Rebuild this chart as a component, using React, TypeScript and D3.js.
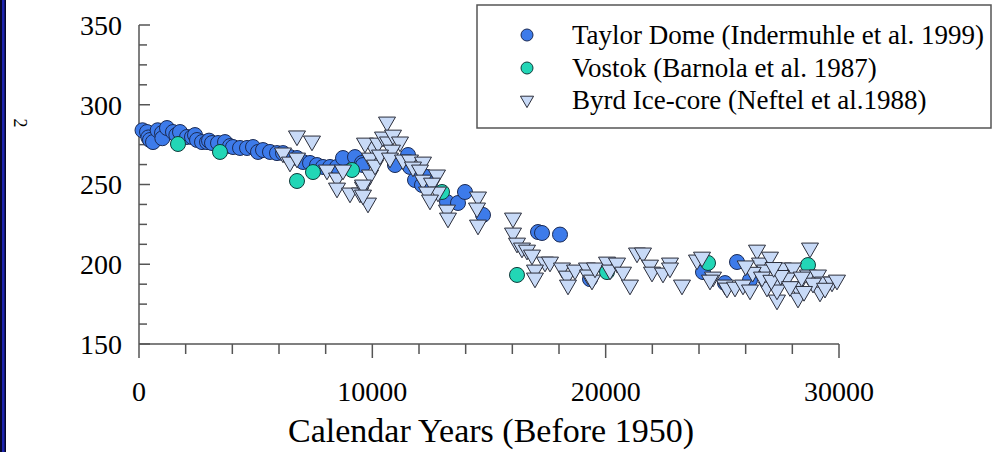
import React, { useEffect, useRef } from "react";
import * as d3 from "d3";

// [calendar years before 1950, CO2 ppmv]
const taylorDome: [number, number][] = [
  [150, 284], [343, 282.9], [400, 279.5], [471, 277.9], [600, 276.6], [800, 284], [986, 282.3],
  [1000, 279], [1200, 285.4], [1457, 282.9], [1600, 281], [1757, 282.9], [2057, 279.8],
  [2271, 279.8], [2400, 281], [2486, 277.9], [2700, 276.6], [2914, 276.6], [3000, 277.5],
  [3129, 276.0], [3386, 276.0], [3686, 276.6], [3900, 274.1], [4029, 273.5], [4329, 272.9],
  [4629, 272.9], [4886, 273.5], [5100, 270.4], [5314, 271.6], [5614, 270.4], [5914, 269.7],
  [6171, 269.7], [6471, 267.2], [6771, 266.6], [7029, 264.1], [7329, 263.5], [7629, 262.2],
  [7886, 261.0], [8186, 261.0], [8486, 261.0], [8743, 266.6], [9257, 267.2], [9557, 263.5],
  [9600, 262.2], [10971, 262.2], [11529, 268.5], [11614, 261.0], [11829, 252.8], [12129, 249.7],
  [12343, 254.7], [12471, 250.9], [13200, 239.0], [13671, 238.4], [13971, 245.3], [14743, 230.9],
  [17100, 220.2], [17271, 219.6], [18043, 218.6], [19329, 190.7], [24171, 195.1], [25114, 188.2],
  [25629, 201.4], [26186, 190.1],
];

const vostok: [number, number][] = [
  [1671, 275.4], [3471, 270.4], [6771, 252.2], [7457, 257.8], [9129, 259.1], [12986, 245.3],
  [16200, 193.3], [20057, 195.1], [24386, 200.8], [28671, 199.5],
];

const byrd: [number, number][] = [
  [6171, 269.8], [6771, 280.5], [7414, 277.3], [6471, 264.1], [6771, 266.6], [8057, 259.1],
  [8486, 254.1], [8486, 247.8], [8743, 259.1], [9043, 244.7], [9471, 244.7], [9600, 248.4],
  [9814, 238.4], [9900, 256.0], [10029, 273.5], [10200, 265.4], [10629, 289.2], [9686, 276.0],
  [9900, 266.6], [10114, 262.2], [9600, 249.7], [9600, 243.4], [10243, 276.0], [10457, 279.8],
  [10671, 276.7], [10886, 281.0], [11186, 276.7], [10843, 271.6], [10329, 268.5], [10757, 266.6],
  [11314, 265.4], [11614, 265.4], [12171, 264.1], [11743, 261.0], [12043, 259.1], [12171, 252.8],
  [12771, 256.0], [12557, 250.9], [12814, 245.3], [12343, 245.3], [12471, 240.3], [13200, 234.0],
  [13243, 229.0], [14529, 242.2], [14486, 235.3], [14529, 224.6], [16029, 229.0], [16029, 219.6],
  [16200, 213.3], [16414, 210.2], [16629, 208.9], [16843, 205.8], [17400, 201.4], [17614, 201.4],
  [16971, 196.4], [16971, 191.4], [18129, 197.7], [18343, 192.6], [18386, 187.0], [18686, 196.4],
  [19200, 197.7], [19243, 193.3], [19414, 190.1], [19543, 197.7], [20057, 201.4], [20186, 196.4],
  [20486, 200.8], [20743, 195.1], [21043, 187.0], [21343, 207.1], [21600, 207.1], [21900, 199.5],
  [21986, 195.1], [22457, 194.5], [22757, 200.8], [22757, 197.7], [23271, 187.0], [23914, 202.7],
  [24600, 192.0], [24471, 190.1], [25114, 187.0], [24129, 204.5], [25200, 185.1], [25543, 185.7],
  [25886, 187.0], [26486, 208.9], [26614, 200.8], [27043, 204.5], [26829, 196.4], [26914, 185.7],
  [27343, 188.9], [27343, 177.6], [27600, 197.7], [28029, 197.7], [28200, 185.7], [28243, 178.8],
  [28757, 210.2], [28671, 193.3], [29100, 193.3], [29186, 182.6], [29314, 188.9], [29700, 188.9],
  [29914, 190.1], [27343, 183.9], [26186, 183.9], [27771, 191.4], [28886, 188.2], [26300, 195],
  [26700, 192], [27100, 190], [27500, 193], [27900, 186], [28400, 192], [29400, 185], [26000, 199],
  [27200, 198], [28500, 183],
];

const legendLabels = [
  "Taylor Dome (Indermuhle et al. 1999)",
  "Vostok (Barnola et al. 1987)",
  "Byrd Ice-core (Neftel et al.1988)",
];

const xMajor = [0, 10000, 20000, 30000];
const yMajor = [150, 200, 250, 300, 350];

const W = 993, H = 452;
const font = "'Liberation Serif', 'Times New Roman', serif";
const colTaylor = "#3d7bea", colVostok = "#22d6b6", colByrd = "#c8daf7";

const ChartView = () => {
  const ref = useRef<SVGSVGElement>(null);

  useEffect(() => {
    const svg = d3.select(ref.current);
    svg.selectAll("*").remove();

    const x = d3.scaleLinear().domain([0, 30000]).range([139, 839]);
    const y = d3.scaleLinear().domain([150, 350]).range([344, 25]);
    const tri = d3.symbol().type(d3.symbolTriangle).size(125);
    const triSmall = d3.symbol().type(d3.symbolTriangle).size(75);

    svg.append("rect").attr("width", W).attr("height", H).attr("fill", "#fff");
    // dark border strip on the left
    svg.append("rect").attr("x", 0).attr("width", 6).attr("height", H).attr("fill", "#06062a");
    svg.append("rect").attr("x", 2).attr("width", 2.5).attr("height", H).attr("fill", "#1c24b0");

    svg.append("text")
      .attr("transform", "translate(20,123) rotate(90)")
      .attr("text-anchor", "middle")
      .attr("dominant-baseline", "central")
      .style("font-family", font).style("font-size", "18px")
      .text("2");

    const axis = svg.append("g").attr("stroke", "#555").attr("stroke-width", 1.5);
    axis.append("line").attr("x1", x(0)).attr("x2", x(0)).attr("y1", y(350)).attr("y2", y(150));
    axis.append("line").attr("x1", x(0)).attr("x2", x(30000)).attr("y1", y(150)).attr("y2", y(150));

    // y ticks point inward
    d3.range(150, 350.1, 12.5).forEach(v => {
      const major = v % 50 === 0;
      axis.append("line").attr("x1", x(0)).attr("x2", x(0) + (major ? 11 : 8))
        .attr("y1", y(v)).attr("y2", y(v));
    });
    // x ticks point outward
    d3.range(0, 30001, 2000).forEach(v => {
      const major = v % 10000 === 0;
      axis.append("line").attr("x1", x(v)).attr("x2", x(v))
        .attr("y1", y(150)).attr("y2", y(150) + (major ? 14 : 10));
    });

    svg.append("g").selectAll("text").data(yMajor).join("text")
      .attr("x", 122).attr("y", d => y(d)).attr("dy", "0.35em")
      .attr("text-anchor", "end")
      .style("font-family", font).style("font-size", "28px")
      .text(d => d);

    svg.append("g").selectAll("text").data(xMajor).join("text")
      .attr("x", d => x(d)).attr("y", 401)
      .attr("text-anchor", "middle")
      .style("font-family", font).style("font-size", "28px")
      .text(d => d);

    svg.append("text")
      .attr("x", 491).attr("y", 442)
      .attr("text-anchor", "middle")
      .style("font-family", font).style("font-size", "34px")
      .text("Calendar Years (Before 1950)");

    svg.append("g").selectAll("circle").data(taylorDome).join("circle")
      .attr("cx", d => x(d[0])).attr("cy", d => y(d[1])).attr("r", 7.5)
      .attr("fill", colTaylor).attr("stroke", "#1b2b55").attr("stroke-width", 1);

    svg.append("g").selectAll("circle").data(vostok).join("circle")
      .attr("cx", d => x(d[0])).attr("cy", d => y(d[1])).attr("r", 7.5)
      .attr("fill", colVostok).attr("stroke", "#103a3a").attr("stroke-width", 1);

    svg.append("g").selectAll("path").data(byrd).join("path")
      .attr("d", tri)
      .attr("transform", d => `translate(${x(d[0])},${y(d[1])}) rotate(180)`)
      .attr("fill", colByrd).attr("stroke", "#2a2d3a").attr("stroke-width", 1);

    // legend
    const lg = svg.append("g");
    lg.append("rect").attr("x", 477).attr("y", 5).attr("width", 514).attr("height", 123)
      .attr("fill", "#fff").attr("stroke", "#555").attr("stroke-width", 1.5);
    const rows = [35, 68, 100];
    lg.append("circle").attr("cx", 527).attr("cy", rows[0]).attr("r", 6)
      .attr("fill", colTaylor).attr("stroke", "#1b2b55");
    lg.append("circle").attr("cx", 527).attr("cy", rows[1]).attr("r", 6)
      .attr("fill", colVostok).attr("stroke", "#103a3a");
    lg.append("path").attr("d", triSmall)
      .attr("transform", `translate(527,${rows[2]}) rotate(180)`)
      .attr("fill", colByrd).attr("stroke", "#2a2d3a");
    lg.selectAll("text").data(legendLabels).join("text")
      .attr("x", 572).attr("y", (d, i) => rows[i]).attr("dy", "0.35em")
      .style("font-family", font).style("font-size", "27px")
      .text(d => d);
  }, []);

  return <svg ref={ref} width={W} height={H} style={{ display: "block" }} />;
};

export default function App() {
  useEffect(() => {
    document.body.style.margin = "0";
  }, []);
  return <ChartView />;
}
